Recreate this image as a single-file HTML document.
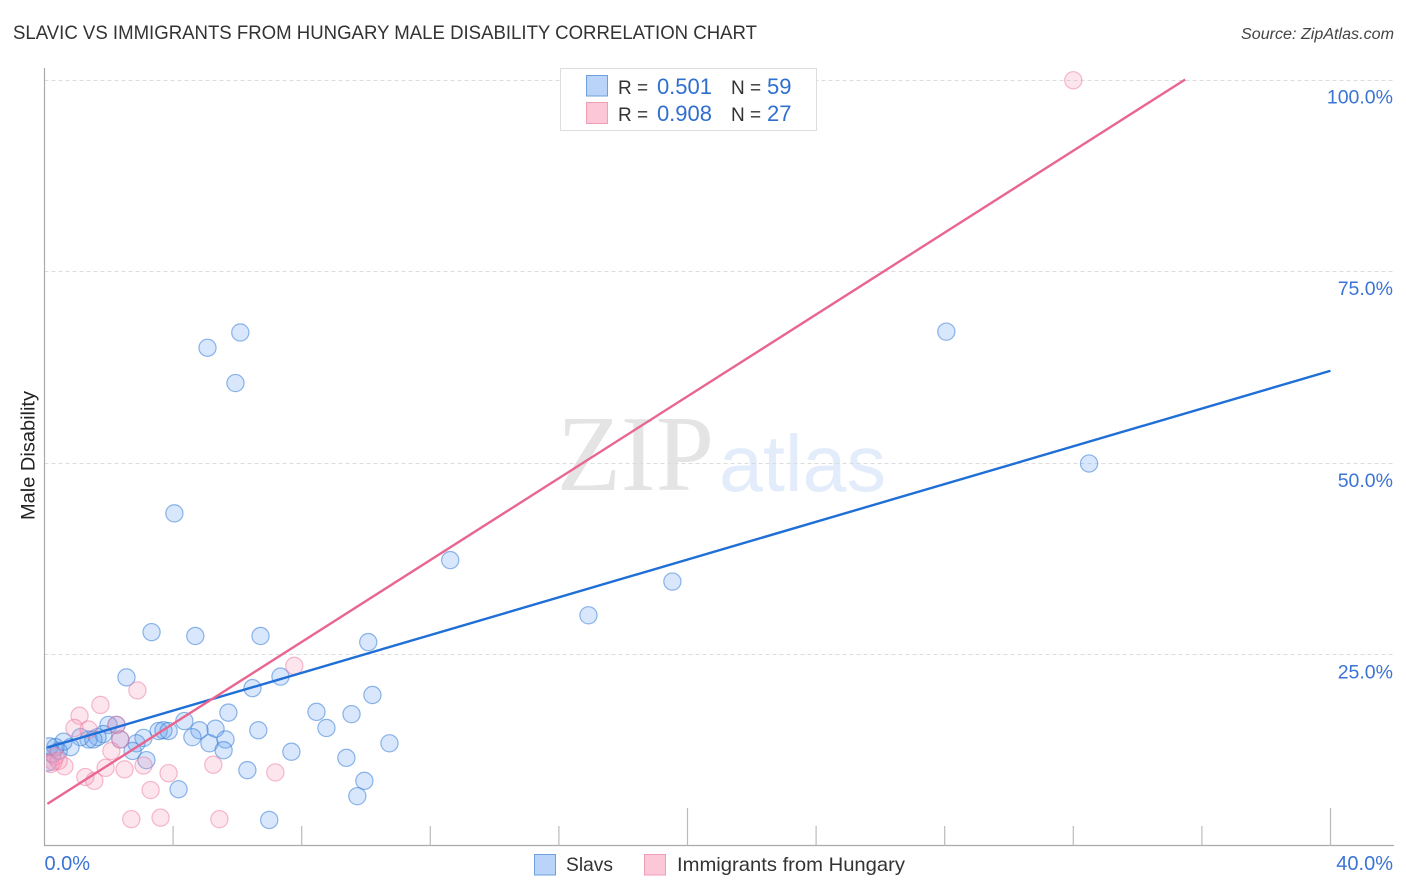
<!DOCTYPE html>
<html>
<head>
<meta charset="utf-8">
<title>Slavic vs Immigrants from Hungary Male Disability Correlation Chart</title>
<style>
html,body{margin:0;padding:0;background:#fff;width:1406px;height:892px;overflow:hidden}
svg{display:block;font-family:"Liberation Sans",sans-serif}
</style>
</head>
<body>
<svg id="chart" xmlns="http://www.w3.org/2000/svg" width="1406" height="892" viewBox="0 0 1406 892">
<defs><clipPath id="plot-clip"><rect x="46" y="60" width="1348" height="786"/></clipPath></defs>
<text x="13" y="39" font-size="19.5" fill="#333" textLength="744" lengthAdjust="spacingAndGlyphs">SLAVIC VS IMMIGRANTS FROM HUNGARY MALE DISABILITY CORRELATION CHART</text>
<text x="1241" y="39" font-size="15.5" font-style="italic" fill="#444" textLength="153" lengthAdjust="spacingAndGlyphs">Source: ZipAtlas.com</text>
<text transform="translate(34.5,520) rotate(-90)" font-size="19" fill="#222" textLength="129" lengthAdjust="spacingAndGlyphs">Male Disability</text>
<g>
<text x="557" y="490" font-family="'Liberation Serif',serif" font-size="108" fill="#e4e4e4" textLength="157" lengthAdjust="spacingAndGlyphs">ZIP</text>
<text x="719" y="491" font-size="80" fill="#e2ecfa" textLength="167" lengthAdjust="spacingAndGlyphs">atlas</text>
</g>
<g id="grid"></g>
<g id="axes"></g>
<g id="points" clip-path="url(#plot-clip)"></g>
<g id="lines" clip-path="url(#plot-clip)"></g>
<g>
<rect x="560.5" y="68.5" width="256" height="62" fill="#fff" stroke="#ddd" stroke-width="1"/>
<rect x="586.5" y="75.5" width="21" height="20.5" fill="#b9d4f8" stroke="#6f9fdc"/>
<text x="618" y="94" font-size="19" fill="#333">R =</text>
<text x="712" y="94" font-size="22" fill="#2f6fd0" text-anchor="end">0.501</text>
<text x="731" y="94" font-size="19" fill="#333">N =</text>
<text x="767" y="94" font-size="22" fill="#2f6fd0">59</text>
<rect x="586.5" y="102.5" width="21" height="21" fill="#fcc8d8" stroke="#f09db6"/>
<text x="618" y="121" font-size="19" fill="#333">R =</text>
<text x="712" y="121" font-size="22" fill="#2f6fd0" text-anchor="end">0.908</text>
<text x="731" y="121" font-size="19" fill="#333">N =</text>
<text x="767" y="121" font-size="22" fill="#2f6fd0">27</text>
</g>
<g>
<rect x="534.5" y="854.5" width="21" height="20.5" fill="#b9d4f8" stroke="#6f9fdc"/>
<text x="566" y="871" font-size="19.5" fill="#333" textLength="47" lengthAdjust="spacingAndGlyphs">Slavs</text>
<rect x="644.5" y="854.5" width="21" height="20.5" fill="#fcc8d8" stroke="#f09db6"/>
<text x="677" y="871" font-size="19.5" fill="#333" textLength="228" lengthAdjust="spacingAndGlyphs">Immigrants from Hungary</text>
</g>
</svg>
<script>
const yTickValues = [25, 50, 75, 100];
const yTickLabels = ["25.0%", "50.0%", "75.0%", "100.0%"];
const xTickValues = [4, 8, 12, 16, 20, 24, 28, 32, 36, 40];
const xMajorTicks = [20, 40];
const xEndValues = [0, 40];
const xEndLabels = ["0.0%", "40.0%"];

const slavsX = [6.09,5.07,5.94,28.05,32.49,4.04,12.62,19.53,16.92,3.33,4.69,6.72,10.07,2.55,7.34,6.47,10.2,5.72,8.46,9.55,4.35,8.77,6.65,5.32,2.24,1.99,3.55,3.70,3.86,4.82,4.60,3.08,10.73,5.63,5.13,7.68,5.57,2.86,2.74,9.39,6.31,3.17,9.95,4.17,9.73,6.99,2.36,1.83,1.65,1.37,1.12,0.81,0.59,0.34,0.16,0.10,1.52,0.25,0.44];
const slavsY = [67.0,65.0,60.4,67.1,49.9,43.4,37.3,34.5,30.1,27.9,27.4,27.4,26.6,22.0,22.1,20.6,19.7,17.4,17.5,17.2,16.3,15.4,15.1,15.3,15.8,15.8,15.0,15.1,15.0,15.1,14.2,14.1,13.4,13.9,13.4,12.3,12.5,13.4,12.4,11.5,9.9,11.2,8.5,7.4,6.5,3.4,13.9,14.6,14.2,13.9,14.2,12.9,13.6,12.9,13.0,10.9,13.9,12.0,12.4];

const hungaryX = [32.0,7.77,2.89,1.74,1.09,0.93,1.37,2.24,2.36,2.08,1.90,2.49,3.08,1.27,1.55,3.86,3.30,2.70,3.61,5.44,5.25,7.18,0.62,0.28,0.34,0.19,0.44];
const hungaryY = [99.9,23.5,20.3,18.4,17.0,15.4,15.2,15.8,13.9,12.4,10.2,10.0,10.5,9.0,8.5,9.5,7.3,3.5,3.7,3.5,10.6,9.6,10.4,11.0,11.7,10.7,11.1];

const slavsTrend = {x: [0.09, 40], y: [12.85, 62.0]};
const hungaryTrend = {x: [0.09, 35.48], y: [5.5, 100]};

const X0 = 44.5, X40 = 1330.5, Y0 = 846, Y100 = 79.5;
const sx = v => X0 + (X40 - X0) * v / 40;
const sy = v => Y0 - (Y0 - Y100) * v / 100;
const NS = "http://www.w3.org/2000/svg";
function mk(parent, tag, attrs, text) {
  const el = document.createElementNS(NS, tag);
  for (const k in attrs) el.setAttribute(k, attrs[k]);
  if (text !== undefined) el.textContent = text;
  parent.appendChild(el);
  return el;
}
const grid = document.getElementById("grid");
const axes = document.getElementById("axes");
const pts = document.getElementById("points");
const lines = document.getElementById("lines");

yTickValues.forEach((v, i) => {
  const g = mk(grid, "line", {x1: X0, x2: 1394, y1: Math.round(sy(v)) + 0.5, y2: Math.round(sy(v)) + 0.5, stroke: "#dcdcdc", "stroke-width": 1, "stroke-dasharray": "4 3"});
  
  
  const t = mk(axes, "text", {x: 1393, y: sy(v) + 24, "font-size": 19.5, fill: "#3b74d4", "text-anchor": "end"}, yTickLabels[i]);
  
  
});

const yAxis = mk(axes, "line", {x1: 44.5, x2: 44.5, y1: 68, y2: 846, stroke: "#aaa", "stroke-width": 1.2});


const xAxis = mk(axes, "line", {x1: 44, x2: 1394, y1: 845.5, y2: 845.5, stroke: "#aaa", "stroke-width": 1.2});



xTickValues.forEach(v => {
  const top = xMajorTicks.includes(v) ? 808 : 826;
  const t = mk(axes, "line", {x1: sx(v), x2: sx(v), y1: top, y2: 845.5, stroke: "#bbb", "stroke-width": 1.2});
  
  
});

xEndValues.forEach((v, i) => {
  const t = mk(axes, "text", {x: i === 0 ? sx(v) : 1393, y: 870, "font-size": 20, fill: "#3b74d4", "text-anchor": i === 0 ? "start" : "end"}, xEndLabels[i]);
  
  
});

slavsX.forEach((v, i) => {
  const c = mk(pts, "circle", {cx: sx(v), cy: sy(slavsY[i]), r: 8.6, fill: "rgba(100,160,240,0.25)", stroke: "rgba(55,125,215,0.55)", "stroke-width": 1.2});
  
  
});
hungaryX.forEach((v, i) => {
  const c = mk(pts, "circle", {cx: sx(v), cy: sy(hungaryY[i]), r: 8.6, fill: "rgba(248,150,185,0.25)", stroke: "rgba(236,120,160,0.5)", "stroke-width": 1.2});
  
  
});

const l1 = mk(lines, "line", {x1: sx(slavsTrend.x[0]), y1: sy(slavsTrend.y[0]), x2: sx(slavsTrend.x[1]), y2: sy(slavsTrend.y[1]), stroke: "#1f6fd6", "stroke-width": 2.4});


const l2 = mk(lines, "line", {x1: sx(hungaryTrend.x[0]), y1: sy(hungaryTrend.y[0]), x2: sx(hungaryTrend.x[1]), y2: sy(hungaryTrend.y[1]), stroke: "#e8668f", "stroke-width": 2.4});


</script>
</body>
</html>
